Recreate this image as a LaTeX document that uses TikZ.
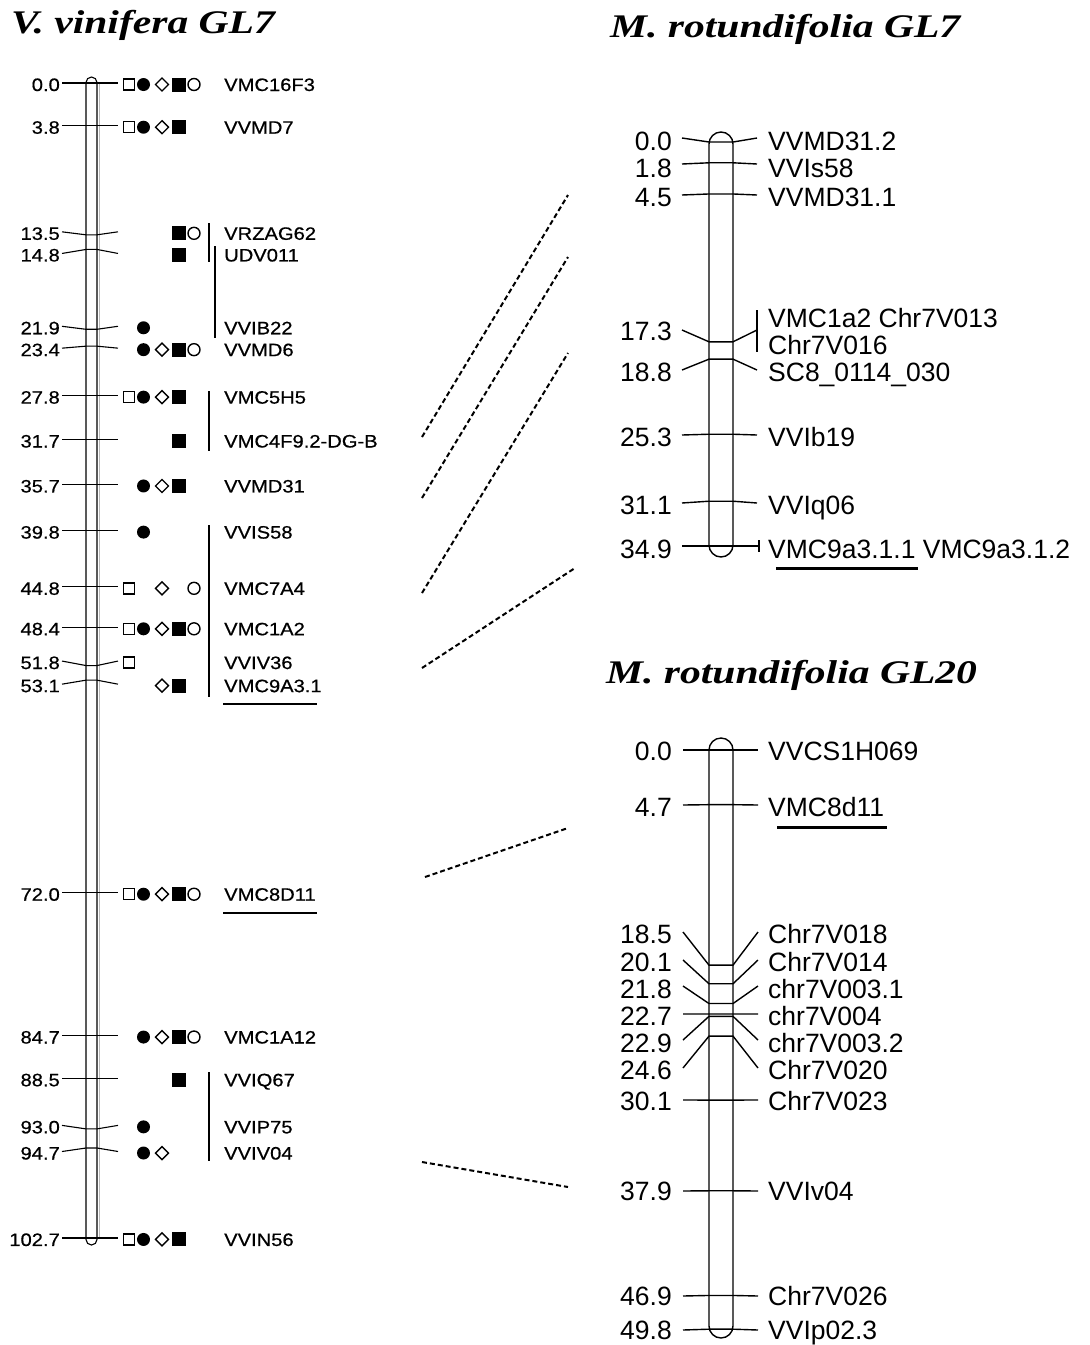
\documentclass[tikz,border=0pt]{standalone}
\usepackage{fontspec}
\setmainfont{Liberation Sans}
\newfontfamily\ttlfont[FakeStretch=1.26]{Liberation Serif}
\newfontfamily\lfont[FakeStretch=1.12,FakeBold=0.6]{Liberation Sans}
\newfontfamily\rfont{Liberation Sans}
\newcommand\lsym[2]{%
  \pgfmathsetmacro\symy{#2}%
  \ifcase#1\or
    \draw[line width=1.4pt] (123.5,\symy-5.5) rectangle (134.5,\symy+5.5);\or
    \fill (143.5,\symy) circle (6.5pt);\or
    \draw[line width=1.4pt] (162,\symy-6.5) -- (168.5,\symy) -- (162,\symy+6.5) -- (155.5,\symy) -- cycle;\or
    \fill (171.5,\symy-7) rectangle (185.5,\symy+7);\or
    \draw[line width=1.4pt] (194,\symy) circle (6pt);\fi}
\begin{document}
\begin{tikzpicture}[x=1pt,y=-1pt,
  title/.style={anchor=base west, inner sep=0pt, font=\ttlfont\bfseries\itshape\fontsize{33}{33}\selectfont},
  lnum/.style={anchor=base east, inner sep=0pt, font=\lfont\fontsize{18}{18}\selectfont},
  lname/.style={anchor=base west, inner sep=0pt, font=\lfont\fontsize{18}{18}\selectfont},
  rnum/.style={anchor=base east, inner sep=0pt, font=\rfont\fontsize{26.5}{26.5}\selectfont},
  rname/.style={anchor=base west, inner sep=0pt, font=\rfont\fontsize{26.5}{26.5}\selectfont},
  tick/.style={line width=1.1pt},
  rtick/.style={line width=1.4pt},
  link/.style={line width=2pt, dash pattern=on 5pt off 3pt},
]
\fill[white] (0,0) rectangle (1090,1345);
\useasboundingbox (0,0) rectangle (1090,1345);

% titles
\node[title] (t1) at (11,33) {V. vinifera GL7};
\node[title] (t2) at (610,37) {M. rotundifolia GL7};
\node[title] (t3) at (606,683) {M. rotundifolia GL20};

% ---------- left map ----------
\draw[line width=1.1pt, rounded corners=5.5pt] (86,77) rectangle (97,1245);
\draw[gray!55, line width=1.5pt] (99.5,83) -- (99.5,1239);
\foreach \n/\d/\m/\s [count=\i] in {
  0.0/0/VMC16F3/{1,2,3,4,5},
  3.8/0/VVMD7/{1,2,3,4},
  13.5/-3/VRZAG62/{4,5},
  14.8/4/UDV011/{4},
  21.9/-3/VVIB22/{2},
  23.4/2/VVMD6/{2,3,4,5},
  27.8/0/VMC5H5/{1,2,3,4},
  31.7/0/VMC4F9.2-DG-B/{4},
  35.7/0/VVMD31/{2,3,4},
  39.8/0/VVIS58/{2},
  44.8/0/VMC7A4/{1,3,5},
  48.4/0/VMC1A2/{1,2,3,4,5},
  51.8/-4.5/VVIV36/{1},
  53.1/4/VMC9A3.1/{3,4},
  72.0/0/VMC8D11/{1,2,3,4,5},
  84.7/0/VMC1A12/{2,3,4,5},
  88.5/0/VVIQ67/{4},
  93.0/-3.5/VVIP75/{2},
  94.7/3.5/VVIV04/{2,3},
  102.7/0/VVIN56/{1,2,3,4}}{
  \pgfmathsetmacro\cy{83+11.246*\n}
  \pgfmathsetmacro\te{\cy+\d}
  \draw[tick] (62,\te) -- (86,\cy) -- (97,\cy) -- (118,\te);
  \node[lnum] (ln\i) at (60,\te+8) {\n};
  \node[lname] (lm\i) at (224,\te+8) {\m};
  \foreach \k in \s {\lsym{\k}{\te+1.5}}
}
% brackets and underlines
\draw[tick] (209,223) -- (209,262);
\draw[tick] (215,246) -- (215,338);
\draw[tick] (209,391) -- (209,451);
\draw[tick] (209,525) -- (209,697);
\draw[tick] (209,1072) -- (209,1161);
\draw[line width=2.5pt] (223,704) -- (317,704);
\draw[line width=2.5pt] (223,913) -- (317,913);

% ---------- M. rotundifolia GL7 ----------
\draw[rtick, rounded corners=12pt] (709,132) rectangle (733,557);
\foreach \n/\te/\tc/\m [count=\i] in {
  0.0/138/141/VVMD31.2,
  1.8/164/168/VVIs58,
  4.5/195/197/VVMD31.1,
  18.8/370/372/SC8\_0114\_030,
  25.3/435/437/VVIb19,
  31.1/503/505/VVIq06}{
  \pgfmathsetmacro\cy{142+11.55*\n}
  \draw[rtick] (682,\te) -- (709,\cy) -- (733,\cy) -- (757,\te);
  \node[rnum] (an\i) at (672,\tc+9.5) {\n};
  \node[rname] (am\i) at (768,\tc+9.5) {\m};
}
% 17.3 (two names)
\draw[rtick] (682,330) -- (709,341.8) -- (733,341.8) -- (757,330);
\draw[rtick] (757,310) -- (757,352);
\node[rnum] (an7) at (672,331+9.5) {17.3};
\node[rname] (am7) at (768,318+9.5) {VMC1a2 Chr7V013};
\node[rname] (am8) at (768,345+9.5) {Chr7V016};
% 34.9
\draw[rtick] (682,546) -- (759,546);
\draw[rtick] (759,540) -- (759,552);
\node[rnum] (an8) at (672,549+9.5) {34.9};
\node[rname] (am9) at (768,549+9.5) {VMC9a3.1.1 VMC9a3.1.2};
\draw[line width=3pt] (776,568) -- (918,568);

% ---------- M. rotundifolia GL20 ----------
\draw[rtick, rounded corners=12pt] (709,738) rectangle (733,1338);
\foreach \n/\te/\tc/\m [count=\i] in {
  0.0/750/751/VVCS1H069,
  4.7/805/807/VMC8d11,
  18.5/932/934/Chr7V018,
  20.1/960/962/Chr7V014,
  21.8/986/989/chr7V003.1,
  22.7/1014/1016/chr7V004,
  22.9/1040/1043/chr7V003.2,
  24.6/1068/1070/Chr7V020,
  30.1/1100/1101/Chr7V023,
  37.9/1191/1191/VVIv04,
  46.9/1296/1296/Chr7V026,
  49.8/1330/1330/VVIp02.3}{
  \pgfmathsetmacro\cy{750+11.63*\n}
  \draw[rtick] (683,\te) -- (709,\cy) -- (733,\cy) -- (758,\te);
  \node[rnum] (bn\i) at (672,\tc+9.5) {\n};
  \node[rname] (bm\i) at (768,\tc+9.5) {\m};
}
\draw[line width=3pt] (777,827) -- (887,827);

% ---------- dashed links ----------
\coordinate (d1a) at (422,437);  \coordinate (d1b) at (568,195);
\coordinate (d2a) at (422,498);  \coordinate (d2b) at (568,257);
\coordinate (d3a) at (422,593);  \coordinate (d3b) at (568,353);
\coordinate (d4a) at (422,668);  \coordinate (d4b) at (575,568);
\coordinate (d5a) at (425,877);  \coordinate (d5b) at (568,828);
\coordinate (d6a) at (422,1162); \coordinate (d6b) at (568,1187);
\foreach \j in {1,...,6} {\draw[link] (d\j a) -- (d\j b);}
\end{tikzpicture}
\end{document}
